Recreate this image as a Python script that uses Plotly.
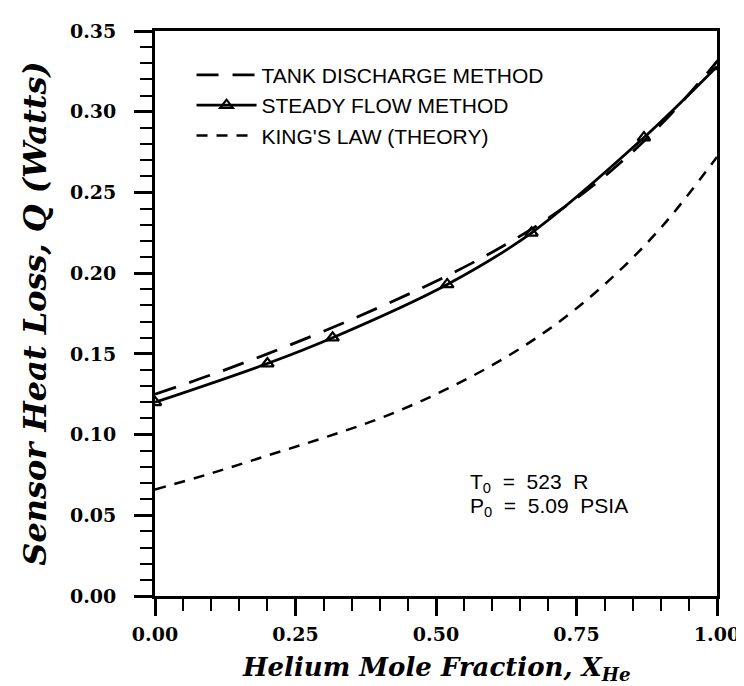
import plotly.graph_objects as go

# ---- data ----
x_tank = [0.0, 0.1, 0.2, 0.3, 0.4, 0.5, 0.6, 0.7, 0.8, 0.9, 1.0]
y_tank = [0.125, 0.137, 0.150, 0.164, 0.179, 0.195, 0.213, 0.234, 0.260, 0.292, 0.331]

x_steady = [0.0, 0.20, 0.316, 0.52, 0.67, 0.87, 1.0]
y_steady = [0.120, 0.144, 0.160, 0.193, 0.225, 0.284, 0.328]

x_king = [0.0, 0.1, 0.2, 0.3, 0.4, 0.5, 0.6, 0.7, 0.8, 0.9, 1.0]
y_king = [0.066, 0.076, 0.087, 0.098, 0.110, 0.125, 0.143, 0.165, 0.193, 0.228, 0.272]

x_ticks = [0.0, 0.25, 0.50, 0.75, 1.00]
x_ticktext = ["0.00", "0.25", "0.50", "0.75", "1.00"]
y_ticks = [0.0, 0.05, 0.10, 0.15, 0.20, 0.25, 0.30, 0.35]
y_ticktext = ["0.00", "0.05", "0.10", "0.15", "0.20", "0.25", "0.30", "0.35"]

names = ["TANK DISCHARGE METHOD", "STEADY FLOW METHOD", "KING'S LAW (THEORY)"]
cond_lines = ["T<sub>0</sub>  =  523  R", "P<sub>0</sub>  =  5.09  PSIA"]
cond_x = 0.557
cond_y = [0.070, 0.055]

LEG_FONT = "Liberation Sans Narrow, Liberation Sans, Arial, sans-serif"
SERIF = "DejaVu Serif, serif"

fig = go.Figure()
fig.add_trace(go.Scatter(
    x=x_tank, y=y_tank, mode="lines", name=names[0],
    line=dict(color="black", width=2.8, dash="22px,14px", shape="spline")))
fig.add_trace(go.Scatter(
    x=x_steady, y=y_steady, mode="lines+markers", name=names[1],
    line=dict(color="black", width=2.8, shape="spline"),
    marker=dict(symbol="triangle-up-open", size=11, color="black",
                line=dict(width=2.2, color="black"))))
fig.add_trace(go.Scatter(
    x=x_king, y=y_king, mode="lines", name=names[2],
    line=dict(color="black", width=2.5, dash="11px,9px", shape="spline")))

for txt, yy in zip(cond_lines, cond_y):
    fig.add_annotation(x=cond_x, y=yy, xref="x", yref="y", text=txt,
                       showarrow=False, xanchor="left", yanchor="middle",
                       font=dict(family=LEG_FONT, size=21, color="black"))

# axis titles
fig.add_annotation(x=0.5, y=-0.128, xref="paper", yref="paper",
                   text="Helium Mole Fraction, X<sub>He</sub>", showarrow=False,
                   xanchor="center", yanchor="middle",
                   font=dict(family=SERIF, size=26, color="black",
                             weight="bold", style="italic"))
fig.add_annotation(x=-0.215, y=0.5, xref="paper", yref="paper",
                   text="Sensor Heat Loss, Q (Watts)", showarrow=False,
                   textangle=-90, xanchor="center", yanchor="middle",
                   font=dict(family=SERIF, size=32, color="black",
                             weight="bold", style="italic"))

axis_common = dict(showline=True, linecolor="black", linewidth=2.8,
                   mirror=True, showgrid=False, zeroline=False,
                   ticks="outside", tickcolor="black", tickwidth=2.5,
                   ticklabeloverflow="allow",
                   tickfont=dict(family=SERIF, size=19, color="black",
                                 weight="bold"))

fig.update_xaxes(range=[0, 1], tickvals=x_ticks, ticktext=x_ticktext,
                 ticklen=17, ticklabelstandoff=2,
                 minor=dict(dtick=0.05, ticklen=12, tickwidth=2.2,
                            ticks="outside", tickcolor="black"),
                 **axis_common)
fig.update_yaxes(range=[0, 0.35], tickvals=y_ticks, ticktext=y_ticktext,
                 ticklen=18, ticklabelstandoff=14,
                 minor=dict(dtick=0.01, ticklen=12, tickwidth=2.2,
                            ticks="outside", tickcolor="black"),
                 **axis_common)

fig.update_layout(
    width=744, height=686,
    margin=dict(l=147, r=28, t=23, b=98),
    paper_bgcolor="white", plot_bgcolor="white",
    showlegend=True,
    legend=dict(x=0.065, y=0.958, xanchor="left", yanchor="top",
                bgcolor="rgba(0,0,0,0)", itemwidth=60, tracegroupgap=0,
                font=dict(family=LEG_FONT, size=21, color="black")),
)

fig.write_html("out.html")
